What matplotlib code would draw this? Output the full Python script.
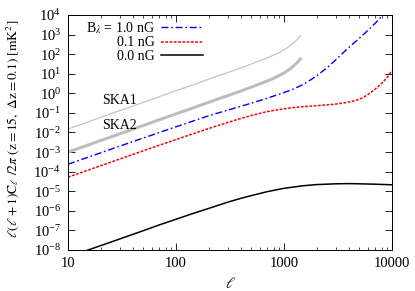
import numpy as np
import matplotlib
matplotlib.use("Agg")
import matplotlib.pyplot as plt
from matplotlib.ticker import LogLocator, NullFormatter, FixedLocator

plt.rcParams['font.family'] = ['Liberation Serif', 'DejaVu Serif']
plt.rcParams['mathtext.fontset'] = 'stix'

# ---- data ----
ell_b = [10, 15, 20, 30, 50, 70, 100, 150, 200, 300, 400, 500, 700, 1000, 1200, 1500, 1800,
         2000, 2500, 3000, 4000, 5000, 6000, 7000, 8000, 10000]
cl_b10 = [10**v for v in [-3.62, -3.28, -3.04, -2.70, -2.28, -2.00, -1.71, -1.38, -1.15, -0.86,
                          -0.66, -0.50, -0.25, 0.04, 0.20, 0.45, 0.72, 0.89, 1.30, 1.70, 2.35,
                          2.82, 3.22, 3.58, 3.92, 4.55]]

ell_r = [10, 15, 20, 30, 50, 70, 100, 150, 200, 300, 400, 500, 700, 1000, 1200, 1500, 2000,
         2500, 3000, 3500, 4000, 4500, 5000, 5500, 6000, 7000, 8000, 9000, 10000]
cl_b01 = [10**v for v in [-4.28, -3.94, -3.70, -3.36, -2.93, -2.65, -2.36, -2.03, -1.80, -1.49,
                          -1.28, -1.13, -0.93, -0.79, -0.73, -0.68, -0.63, -0.59, -0.55, -0.50,
                          -0.44, -0.38, -0.30, -0.19, -0.06, 0.22, 0.50, 0.80, 1.16]]

ell_k = [10, 15, 20, 30, 50, 70, 100, 150, 200, 300, 400, 500, 700, 1000, 1500, 2000, 3000,
         4000, 5000, 7000, 10000]
cl_b00 = [10**v for v in [-8.37, -8.02, -7.78, -7.44, -7.01, -6.72, -6.43, -6.10, -5.88, -5.56,
                          -5.36, -5.22, -5.02, -4.85, -4.72, -4.66, -4.62, -4.61, -4.62, -4.64,
                          -4.67]]

ell_ska = [10, 15, 20, 30, 50, 70, 100, 150, 200, 300, 400, 500, 600, 700, 800, 900, 1000,
           1100, 1200, 1300, 1420]
ska1 = [10**v for v in [-1.82, -1.48, -1.23, -0.89, -0.46, -0.17, 0.13, 0.47, 0.72, 1.06, 1.30,
                        1.50, 1.67, 1.81, 1.95, 2.08, 2.22, 2.37, 2.53, 2.71, 2.94]]
ska2 = [10**v for v in [-3.00, -2.66, -2.41, -2.07, -1.64, -1.35, -1.05, -0.71, -0.46, -0.12,
                        0.12, 0.32, 0.49, 0.63, 0.77, 0.90, 1.04, 1.19, 1.35, 1.53, 1.75]]

legend_labels = [r'B$_\lambda$ = 1.0 nG', '0.1 nG', '0.0 nG']
xticks = [10, 100, 1000, 10000]
xticklabels = ['10', '100', '1000', '10000']

# ---- figure ----
fig = plt.figure(figsize=(4.15, 2.91), dpi=100)
ax = fig.add_axes([68/415, 1-250/291, (392-68)/415, (250-15)/291])

ax.plot(ell_ska, ska1, color='#c4c4c4', lw=0.9)
ax.plot(ell_ska, ska2, color='#bdbdbd', lw=2.2)
l1, = ax.plot(ell_b, cl_b10, color='#0000ff', lw=1.0, dashes=[5, 2, 1.2, 2])
l2, = ax.plot(ell_r, cl_b01, color='#ff0000', lw=1.1, dashes=[1.8, 1.0])
l3, = ax.plot(ell_k, cl_b00, color='black', lw=1.1)

ax.set_xscale('log')
ax.set_yscale('log')
ax.set_xlim(10, 10000)
ax.set_ylim(1e-8, 1e4)

ax.xaxis.set_major_locator(FixedLocator(xticks))
ax.set_xticklabels(xticklabels)
ax.xaxis.set_minor_locator(LogLocator(base=10, subs=np.arange(2, 10), numticks=20))
ax.xaxis.set_minor_formatter(NullFormatter())
ax.yaxis.set_major_locator(LogLocator(base=10, numticks=20))
ax.yaxis.set_minor_locator(LogLocator(base=10, subs=[], numticks=20))
ax.yaxis.set_minor_formatter(NullFormatter())

ax.tick_params(which='both', direction='in', top=True, right=True, labelsize=10.5)
ax.tick_params(which='major', length=5, width=0.6, pad=5)
ax.tick_params(which='minor', length=2.5, width=0.5)
for s in ax.spines.values():
    s.set_linewidth(0.7)

ax.text(20.5, 10**-0.39, 'SKA1', fontsize=10, va='center', ha='left')
ax.text(20.5, 10**-1.66, 'SKA2', fontsize=10, va='center', ha='left')

ax.set_xlabel(r'$\ell$', fontsize=11, labelpad=4)
ax.set_ylabel(r'$\ell(\ell+1)\mathrm{C}_\ell\ /2\pi\ (\mathrm{z}{=}15,\ \Delta\mathrm{z}{=}0.1)\ [\mathrm{mK}^2]$',
              fontsize=9.7)
ax.yaxis.set_label_coords((21-68)/324, (250-128.5)/235)

ax.legend([l1, l2, l3], legend_labels, loc='upper right',
          bbox_to_anchor=((203-68)/324, (250-20)/235), frameon=False,
          markerfirst=False, fontsize=10, handlelength=3.0, handletextpad=0.5,
          labelspacing=0.05, borderpad=0, borderaxespad=0)

fig.savefig('out.png', dpi=100)
